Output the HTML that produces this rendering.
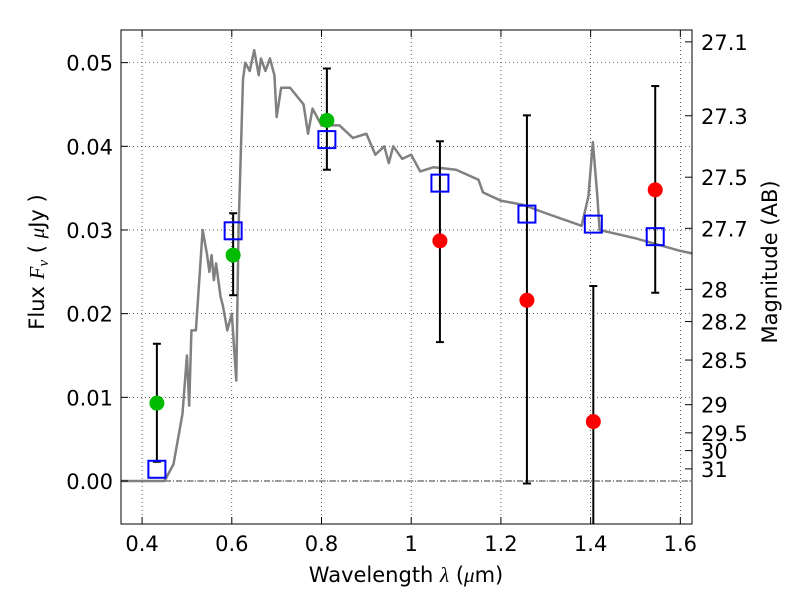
<!DOCTYPE html>
<html><head><meta charset="utf-8"><style>
body{margin:0;background:#fff;}
svg text{font-family:"DejaVu Sans","Liberation Sans",sans-serif;fill:#000;}
</style></head><body>
<svg id="chart" width="800" height="600" xmlns="http://www.w3.org/2000/svg">
<rect width="800" height="600" fill="#fff"/>
<g id="grid"></g><g id="spec"></g><g id="marks"></g><g id="axes"></g>
</svg>
<script>
const specX=[0.353,0.45,0.47,0.49,0.5,0.505,0.51,0.52,0.525,0.535,0.545,0.55,0.555,0.56,0.565,0.575,0.58,0.59,0.6,0.605,0.61,0.615,0.625,0.63,0.64,0.65,0.66,0.665,0.675,0.685,0.695,0.7,0.71,0.73,0.76,0.77,0.78,0.8,0.84,0.87,0.9,0.92,0.94,0.95,0.96,0.98,1.0,1.02,1.05,1.1,1.15,1.16,1.2,1.25,1.3,1.38,1.395,1.405,1.415,1.42,1.5,1.6,1.626];
const specY=[0,0,0.002,0.008,0.015,0.009,0.018,0.018,0.022,0.030,0.027,0.025,0.027,0.024,0.026,0.022,0.021,0.018,0.02,0.016,0.012,0.03,0.048,0.050,0.049,0.0515,0.0485,0.0505,0.049,0.0505,0.0485,0.0435,0.047,0.047,0.045,0.0415,0.0445,0.0425,0.0425,0.041,0.0415,0.039,0.040,0.038,0.040,0.0385,0.039,0.037,0.0375,0.0372,0.036,0.0345,0.0335,0.033,0.032,0.0305,0.034,0.0405,0.034,0.030,0.029,0.0275,0.0272];
const bandX=[0.433,0.603,0.812,1.064,1.258,1.406,1.544];
const obsFlux=[0.0093,0.027,0.0431,0.0287,0.0216,0.0071,0.0348];
const errLo=[0.0023,0.0222,0.0372,0.0166,-0.0003,-0.0063,0.0225];
const errHi=[0.0164,0.032,0.0493,0.0406,0.0437,0.0233,0.0472];
const modelFlux=[0.0014,0.0299,0.0408,0.0356,0.0319,0.0307,0.0292];
const pointColor=['#00bb00','#00bb00','#00bb00','#ff0000','#ff0000','#ff0000','#ff0000'];
const xTicks=[0.4,0.6,0.8,1.0,1.2,1.4,1.6];
const xTickLabels=['0.4','0.6','0.8','1','1.2','1.4','1.6'];
const yTicks=[0,0.01,0.02,0.03,0.04,0.05];
const yTickLabels=['0.00','0.01','0.02','0.03','0.04','0.05'];
const magTicks=[27.1,27.3,27.5,27.7,28,28.2,28.5,29,29.5,30,31];

const L=121,R=692,T=30,B=524,xmin=0.353,xmax=1.626,ymin=-0.00514,ymax=0.0539;
const X=v=>L+(v-xmin)/(xmax-xmin)*(R-L);
const Y=v=>B-(v-ymin)/(ymax-ymin)*(B-T);
const NS='http://www.w3.org/2000/svg';
function mk(tag,attrs,parent,txt){const e=document.createElementNS(NS,tag);for(const k in attrs)e.setAttribute(k,attrs[k]);if(txt!==undefined)e.textContent=txt;document.getElementById(parent).appendChild(e);return e;}

xTicks.forEach((t,i)=>{
 const g=mk('line',{x1:X(t),x2:X(t),y1:T,y2:B,stroke:'#000','stroke-width':0.6,'stroke-dasharray':'1,3'},'grid');
 
 
});
yTicks.forEach((t,i)=>{
 const g=mk('line',{x1:L,x2:R,y1:Y(t),y2:Y(t),stroke:'#000','stroke-width':0.6,'stroke-dasharray':'1,3'},'grid');
 
 
});
const zl=mk('line',{x1:L,x2:R,y1:Y(0),y2:Y(0),stroke:'#000','stroke-width':0.8,'stroke-dasharray':'6,2,1,2'},'grid');



const sp=mk('polyline',{points:specX.map((x,i)=>X(x)+','+Y(specY[i])).join(' '),fill:'none',stroke:'#808080','stroke-width':2.5,'stroke-linejoin':'round'},'spec');



bandX.forEach((b,i)=>{
 const lo=Math.max(errLo[i],ymin);
 const e=mk('line',{x1:X(b),x2:X(b),y1:Y(lo),y2:Y(errHi[i]),stroke:'#000','stroke-width':2},'marks');
 
 
 [errLo[i],errHi[i]].forEach(v=>{ if(v>=ymin){
  const c=mk('line',{x1:X(b)-4,x2:X(b)+4,y1:Y(v),y2:Y(v),stroke:'#000','stroke-width':2},'marks');
  
  }});
 const c=mk('circle',{cx:X(b),cy:Y(obsFlux[i]),r:7.5,fill:pointColor[i]},'marks');
 
 
 const s=mk('rect',{x:X(b)-8.5,y:Y(modelFlux[i])-8.5,width:17,height:17,fill:'none',stroke:'#0000ff','stroke-width':2},'marks');
 
 
});

const fr=mk('rect',{x:L,y:T,width:R-L,height:B-T,fill:'none',stroke:'#000','stroke-width':1},'axes');


xTicks.forEach((t,i)=>{
 mk('line',{x1:X(t),x2:X(t),y1:B,y2:B-7,stroke:'#000'},'axes');
 mk('line',{x1:X(t),x2:X(t),y1:T,y2:T+7,stroke:'#000'},'axes');
 const l=mk('text',{x:X(t),y:B+27,'text-anchor':'middle','font-size':21},'axes',xTickLabels[i]);
 
 
});
yTicks.forEach((t,i)=>{
 mk('line',{x1:L,x2:L+7,y1:Y(t),y2:Y(t),stroke:'#000'},'axes');
 const l=mk('text',{x:L-8,y:Y(t)+8,'text-anchor':'end','font-size':21},'axes',yTickLabels[i]);
 
 
});
magTicks.forEach(m=>{
 const f=Math.pow(10,(23.9-m)/2.5);
 mk('line',{x1:R,x2:R-7,y1:Y(f),y2:Y(f),stroke:'#000'},'axes');
 const l=mk('text',{x:R+9,y:Y(f)+8,'font-size':21},'axes',String(m));
 
 
});
const xl=mk('text',{x:406,y:582,'text-anchor':'middle','font-size':21},'axes');
xl.innerHTML='Wavelength  <tspan font-family="Liberation Serif" font-style="italic">λ</tspan> (<tspan font-family="Liberation Serif" font-style="italic">μ</tspan>m)';


const yl=mk('text',{x:0,y:0,transform:'translate(44,262) rotate(-90)','text-anchor':'middle','font-size':21},'axes');
yl.innerHTML='Flux  <tspan font-family="Liberation Serif" font-style="italic">F</tspan><tspan font-family="Liberation Serif" font-style="italic" font-size="15" dy="4">ν</tspan><tspan dy="-4">  ( </tspan><tspan font-family="Liberation Serif" font-style="italic">μ</tspan>Jy )';


const ml=mk('text',{x:0,y:0,transform:'translate(777,262) rotate(-90)','text-anchor':'middle','font-size':21},'axes','Magnitude (AB)');


</script>
</body></html>
